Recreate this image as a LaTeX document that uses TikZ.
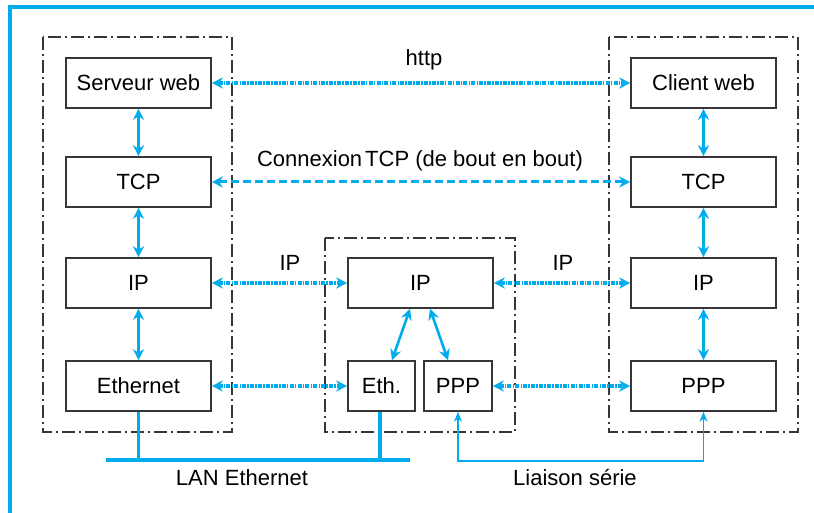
\documentclass[tikz,border=0pt]{standalone}
\usepackage{fontspec}
\setmainfont{Liberation Sans}
\usetikzlibrary{arrows.meta,calc}
\definecolor{cy}{RGB}{0,172,236}
\definecolor{dk}{RGB}{55,55,55}
\tikzset{
  layer/.style={draw=dk,line width=1.6pt,minimum width=145pt,minimum height=50pt,inner sep=0pt,font=\fontsize{22}{24}\selectfont},
  small/.style={layer,minimum width=67pt},
  host/.style={draw=dk,line width=1.6pt,dash pattern=on 13pt off 4pt on 2pt off 4pt},
  vlink/.style={draw=cy,line width=3.2pt,{Stealth[length=11pt,width=11pt]}-{Stealth[length=11pt,width=11pt]}},
  dlink/.style={draw=cy,line width=4pt,dash pattern=on 4pt off 1.2pt on 1.5pt off 1.2pt,{Stealth[length=11pt,width=11pt]}-{Stealth[length=11pt,width=11pt]}},
  tlink/.style={draw=cy,line width=3pt,dash pattern=on 8pt off 4pt,{Stealth[length=11pt,width=11pt]}-{Stealth[length=11pt,width=11pt]}},
  lbl/.style={font=\fontsize{22}{24}\selectfont,text=black,inner sep=1pt},
}
\begin{document}
\begin{tikzpicture}[x=1pt,y=-1pt]
\useasboundingbox (0,0) rectangle (814,513);
% outer frame
\draw[cy,line width=3.5pt] (814,7) -- (10,7) -- (10,513);
% host boxes
\draw[host] (43,37) rectangle (232,432);
\draw[host] (325,238) rectangle (515,432);
\draw[host] (609,37) rectangle (798,432);
% left stack
\node[layer] (sw) at (138.5,83) {Serveur web};
\node[layer] (tcpL) at (138.5,182) {TCP};
\node[layer] (ipL) at (138.5,283) {IP};
\node[layer] (ethL) at (138.5,386) {Ethernet};
% right stack
\node[layer] (cw) at (703.5,83) {Client web};
\node[layer] (tcpR) at (703.5,182) {TCP};
\node[layer] (ipR) at (703.5,283) {IP};
\node[layer] (pppR) at (703.5,386) {PPP};
% router
\node[layer] (ipM) at (420.5,283) {IP};
\node[small] (eth) at (381.5,386) {Eth.};
\node[small,minimum width=68pt] (ppp) at (458,386) {PPP};
% vertical links
\draw[vlink] (sw.south) -- (tcpL.north);
\draw[vlink] (tcpL.south) -- (ipL.north);
\draw[vlink] (ipL.south) -- (ethL.north);
\draw[vlink] (cw.south) -- (tcpR.north);
\draw[vlink] (tcpR.south) -- (ipR.north);
\draw[vlink] (ipR.south) -- (pppR.north);
\draw[vlink,line width=2.6pt] ([xshift=-10.5pt]ipM.south) -- ([xshift=10.5pt]eth.north);
\draw[vlink,line width=2.6pt] ([xshift=9.5pt]ipM.south) -- ([xshift=-10pt]ppp.north);
% horizontal links
\draw[dlink] (sw.east) -- (cw.west);
\draw[tlink] (tcpL.east) -- (tcpR.west);
\draw[dlink] (ipL.east) -- (ipM.west);
\draw[dlink] (ipM.east) -- (ipR.west);
\draw[dlink] (ethL.east) -- (eth.west);
\draw[dlink] (ppp.east) -- (pppR.west);
% labels
\node[lbl] (lhttp) at (424,60) {http};
\node[lbl] (ltcp) at (420,161) {Connexion\kern3pt TCP (de bout en bout)};
\node[lbl] (lip1) at (290,263) {IP};
\node[lbl] (lip2) at (563,263) {IP};
% LAN
\coordinate (lanL) at (106,460);
\coordinate (lanR) at (410,460);
\draw[cy,line width=3.5pt] (lanL) -- (lanR);
\draw[cy,line width=3.5pt] (ethL.south) -- (ethL.south |- lanL);
\draw[cy,line width=3.5pt] ([xshift=-1.5pt]eth.south) -- ([xshift=-1.5pt]eth.south |- lanL);
\node[lbl] (llan) at (242,478) {LAN Ethernet};
% serial link
\draw[cy,line width=1.8pt,{Stealth[length=10pt,width=8pt]}-{Stealth[length=10pt,width=8pt]}] (ppp.south) -- ++(0,49) -| (pppR.south);
\node[lbl] (lser) at (575,478) {Liaison série};
\end{tikzpicture}
\end{document}
